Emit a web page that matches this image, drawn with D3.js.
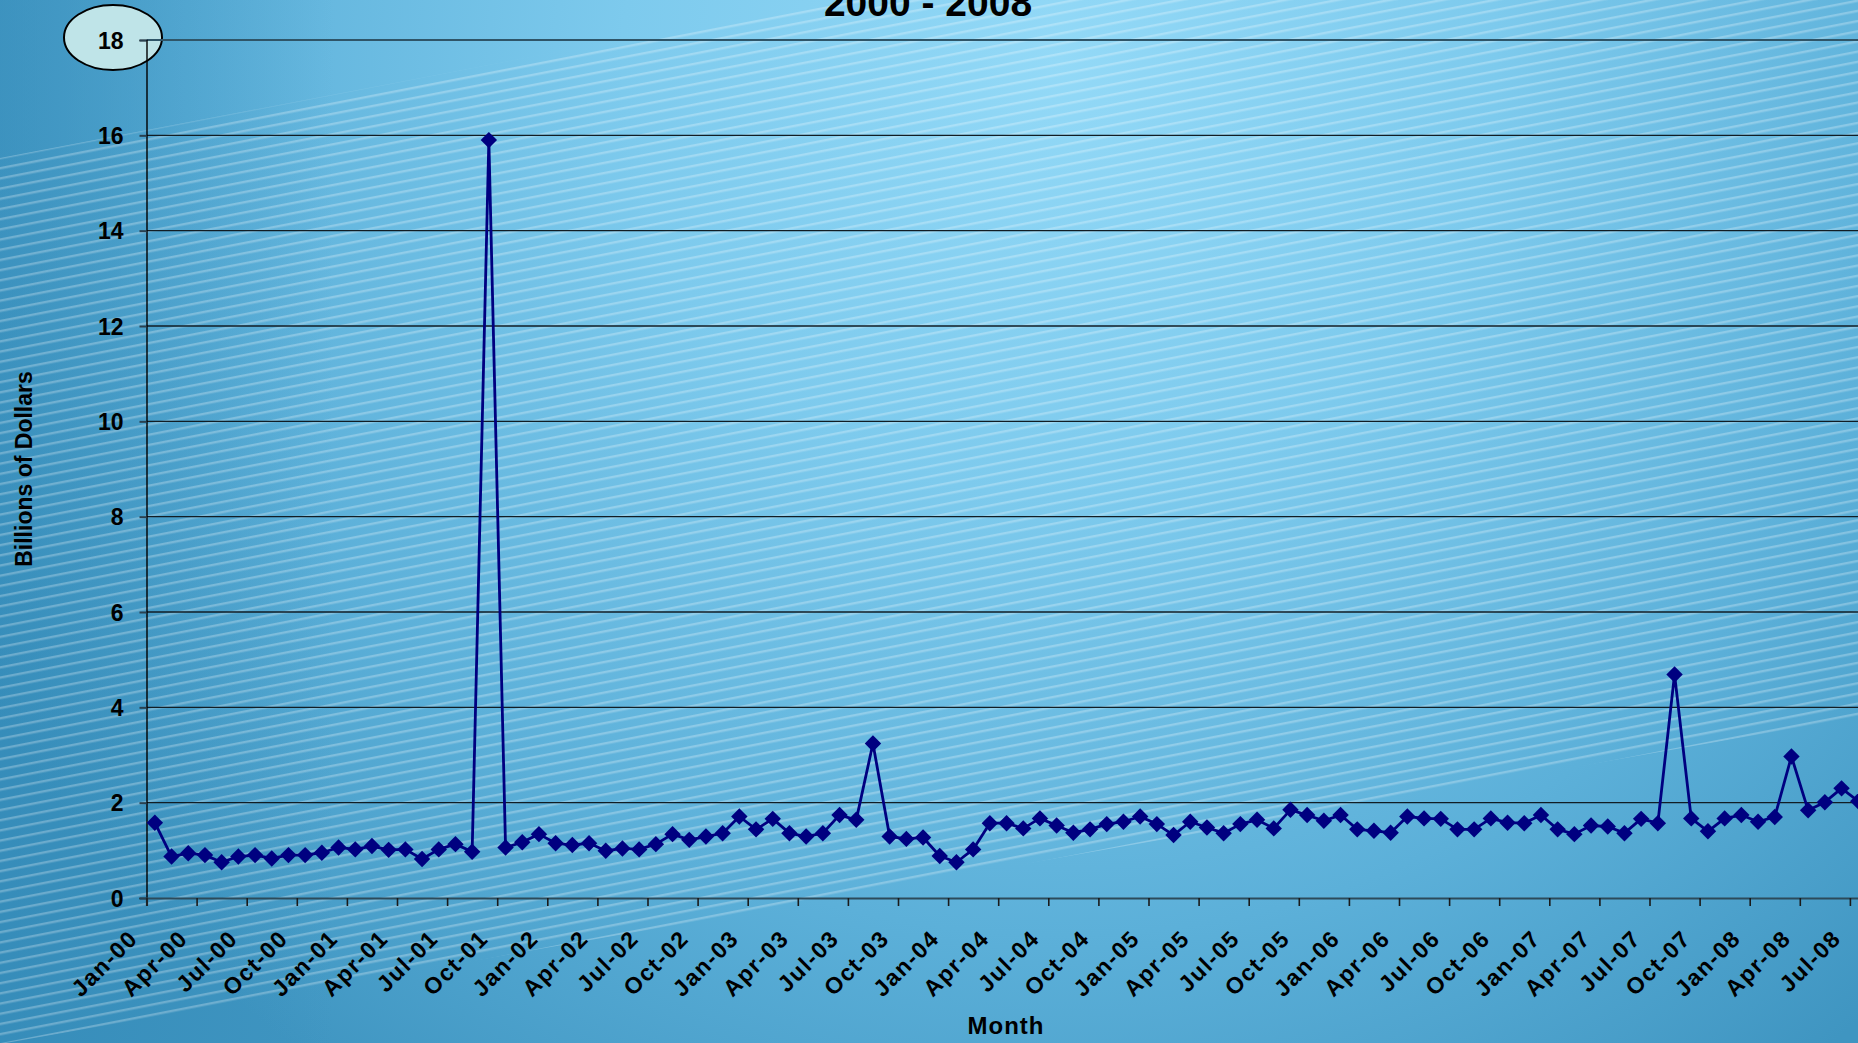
<!DOCTYPE html>
<html>
<head>
<meta charset="utf-8">
<script src="https://cdn.jsdelivr.net/npm/d3@7"></script>
<style>
  html, body { margin: 0; padding: 0; overflow: hidden; background: #3d93bf; }
  svg { display: block; }
  text { font-family: "Liberation Sans", Arial, sans-serif; font-weight: bold; fill: #000; }
</style>
</head>
<body>
<svg id="chart" width="1858" height="1043"></svg>
<script>
// Monthly totals, billions of dollars, Jan 2000 – Jul 2008
const monthNames = ["Jan","Feb","Mar","Apr","May","Jun","Jul","Aug","Sep","Oct","Nov","Dec"];
const years = ["00","01","02","03","04","05","06","07","08"];

const values = [
  1.58, 0.87, 0.94, 0.90, 0.75, 0.87, 0.90, 0.83, 0.90, 0.90, 0.95, 1.06,   // 2000
  1.02, 1.09, 1.01, 1.02, 0.82, 1.02, 1.13, 0.97, 15.90, 1.06, 1.17, 1.34,  // 2001
  1.15, 1.11, 1.15, 0.99, 1.04, 1.02, 1.13, 1.34, 1.22, 1.29, 1.36, 1.71,   // 2002
  1.44, 1.66, 1.36, 1.29, 1.36, 1.74, 1.64, 3.24, 1.29, 1.24, 1.27, 0.88,   // 2003
  0.75, 1.02, 1.57, 1.57, 1.46, 1.67, 1.52, 1.37, 1.44, 1.55, 1.60, 1.71,   // 2004
  1.55, 1.32, 1.60, 1.48, 1.36, 1.55, 1.64, 1.46, 1.85, 1.74, 1.62, 1.74,   // 2005
  1.44, 1.41, 1.37, 1.71, 1.67, 1.66, 1.44, 1.44, 1.67, 1.58, 1.57, 1.74,   // 2006
  1.44, 1.34, 1.52, 1.50, 1.36, 1.66, 1.57, 4.69, 1.67, 1.40, 1.67, 1.74,   // 2007
  1.60, 1.70, 2.97, 1.84, 2.01, 2.30, 2.03                                  // 2008
];

const months = [];
years.forEach(yy => monthNames.forEach(m => months.push(m + "-" + yy)));
months.length = values.length;

const tickLabels = [
  "Jan-00","Apr-00","Jul-00","Oct-00","Jan-01","Apr-01","Jul-01","Oct-01",
  "Jan-02","Apr-02","Jul-02","Oct-02","Jan-03","Apr-03","Jul-03","Oct-03",
  "Jan-04","Apr-04","Jul-04","Oct-04","Jan-05","Apr-05","Jul-05","Oct-05",
  "Jan-06","Apr-06","Jul-06","Oct-06","Jan-07","Apr-07","Jul-07","Oct-07",
  "Jan-08","Apr-08","Jul-08"
];
const yTicks = [0, 2, 4, 6, 8, 10, 12, 14, 16, 18];

const titleText = "2000 - 2008";
const yTitle = "Billions of Dollars";
const xTitle = "Month";

const W = 1858, H = 1043;
const plot = { left: 146.5, top: 40, bottom: 898, monthWidth: 16.7 };
const plotRight = plot.left + plot.monthWidth * values.length;

const svg = d3.select("#chart");
const defs = svg.append("defs");

// ---- background: soft blue glow with a band of diagonal highlight stripes
const rg = defs.append("radialGradient").attr("id", "bg")
  .attr("gradientUnits", "userSpaceOnUse")
  .attr("cx", 1060).attr("cy", 60).attr("r", 1250);
[[0, "#93d9f7"], [0.35, "#7dcaed"], [0.7, "#5cb0d9"], [1, "#3f95c1"]]
  .forEach(([o, c]) => rg.append("stop").attr("offset", o).attr("stop-color", c));

const edge = defs.append("linearGradient").attr("id", "edge")
  .attr("x1", 0).attr("x2", 1).attr("y1", 0).attr("y2", 0);
[[0, "#2f86b4", 0.55], [0.18, "#2f86b4", 0], [1, "#2f86b4", 0]]
  .forEach(([o, c, a]) => edge.append("stop").attr("offset", o)
    .attr("stop-color", c).attr("stop-opacity", a));

const pat = defs.append("pattern").attr("id", "stripes")
  .attr("patternUnits", "userSpaceOnUse")
  .attr("width", 40).attr("height", 10)
  .attr("patternTransform", "rotate(-11)");
pat.append("rect").attr("x", 0).attr("y", 4).attr("width", 40).attr("height", 2.4)
  .attr("fill", "#ffffff").attr("fill-opacity", 0.26);

svg.append("rect").attr("width", W).attr("height", H).attr("fill", "url(#bg)");
svg.append("rect").attr("width", W).attr("height", H).attr("fill", "url(#edge)");
svg.append("rect").attr("width", W).attr("height", H)
  .attr("fill", "url(#stripes)")
  .attr("clip-path", "url(#band)");
defs.append("clipPath").attr("id", "band")
  .append("polygon").attr("points", "0,158 1858,-195 1858,717 0,1044");

// ---- scales
const xi = d3.scaleLinear().domain([0, values.length]).range([plot.left, plotRight]);
const xc = (i) => xi(i + 0.5);
const y = d3.scaleLinear().domain([0, 18]).range([plot.bottom, plot.top]);

// ---- annotation ellipse behind the top tick label
svg.append("ellipse")
  .attr("cx", plot.left - 33.5).attr("cy", y(18) - 2.5)
  .attr("rx", 49).attr("ry", 32.5)
  .attr("fill", "#bfe4e8").attr("stroke", "#000").attr("stroke-width", 2);

// ---- horizontal gridlines
svg.append("g").selectAll("line").data(yTicks.filter(v => v > 0)).join("line")
  .attr("x1", plot.left).attr("x2", plotRight)
  .attr("y1", d => y(d)).attr("y2", d => y(d))
  .attr("stroke", d => d === 18 ? "#2f5568" : "#111d24")
  .attr("stroke-width", d => d === 18 ? 2 : 1.4);

// ---- y axis
const yAxis = svg.append("g").attr("transform", `translate(${plot.left},0)`)
  .call(d3.axisLeft(y).tickValues(yTicks).tickSize(7).tickPadding(16).tickFormat(d3.format("d")));
yAxis.select(".domain").attr("stroke", "#000").attr("stroke-width", 1.4);
yAxis.selectAll(".tick line").attr("stroke", "#2a4150").attr("stroke-width", 2);
yAxis.selectAll(".tick text")
  .attr("font-size", 23).attr("font-family", null).attr("dy", "0.36em");

// ---- x axis (ticks fall on quarter boundaries)
const xAxis = svg.append("g").attr("transform", `translate(0,${plot.bottom})`)
  .call(d3.axisBottom(xi)
    .tickValues(d3.range(0, values.length, 3))
    .tickSize(8)
    .tickFormat((d, i) => tickLabels[i]));
xAxis.select(".domain").attr("stroke", "#2c4a5a").attr("stroke-width", 2.2);
xAxis.selectAll(".tick line").attr("stroke", "#1a1a1a").attr("stroke-width", 1.6);
xAxis.selectAll(".tick text")
  .attr("font-size", 23).attr("font-family", null)
  .attr("letter-spacing", "1.5px")
  .attr("text-anchor", "end")
  .attr("x", 0).attr("y", 0).attr("dy", null)
  .attr("transform", "translate(-8,42) rotate(-45)");

// ---- data line and diamond markers
const line = d3.line().x((d, i) => xc(i)).y(d => y(d));
svg.append("path").datum(values)
  .attr("d", line)
  .attr("fill", "none")
  .attr("stroke", "#000080")
  .attr("stroke-width", 2.8)
  .attr("stroke-linejoin", "round");

const diamond = d3.symbol().type(d3.symbolSquare).size(135);
svg.append("g").selectAll("path").data(values).join("path")
  .attr("d", diamond)
  .attr("transform", (d, i) => `translate(${xc(i)},${y(d)}) rotate(45)`)
  .attr("fill", "#000080");

// ---- titles
svg.append("text").attr("x", 928).attr("y", 16)
  .attr("text-anchor", "middle").attr("font-size", 39)
  .text(titleText);

svg.append("text")
  .attr("transform", `translate(32,${(plot.top + plot.bottom) / 2}) rotate(-90)`)
  .attr("text-anchor", "middle").attr("font-size", 23)
  .text(yTitle);

svg.append("text").attr("x", 1006).attr("y", 1034)
  .attr("text-anchor", "middle").attr("font-size", 24)
  .attr("letter-spacing", "1px")
  .text(xTitle);
</script>
</body>
</html>
